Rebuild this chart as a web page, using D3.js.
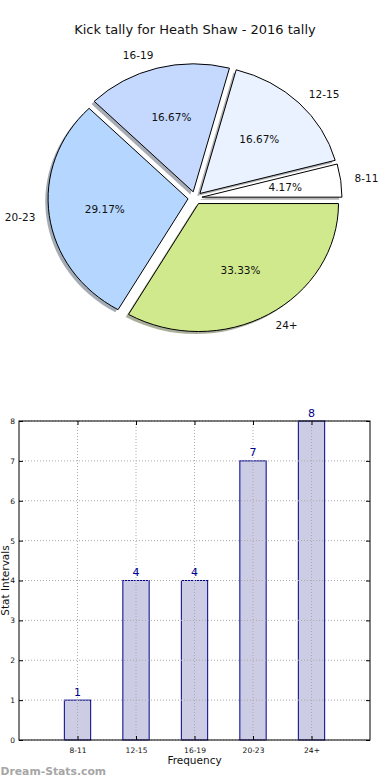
<!DOCTYPE html>
<html>
<head>
<meta charset="utf-8">
<script src="https://cdn.jsdelivr.net/npm/d3@7"></script>
<style>
  body { margin: 0; background: #fff; }
  svg { display: block; font-family: 'DejaVu Sans', sans-serif; }
</style>
</head>
<body>
<div id="chart"></div>
<script>
const title = 'Kick tally for Heath Shaw - 2016 tally'
const categories = ['8-11', '12-15', '16-19', '20-23', '24+']
const counts = [1, 4, 4, 7, 8]
const sliceColors = ['#ffffff', '#eaf1ff', '#c5d9ff', '#b4d6ff', '#d0e98c']
const yTicks = [0, 1, 2, 3, 4, 5, 6, 7, 8]

const width = 390
const height = 780

const svg = d3.select('#chart').append('svg')
  .attr('width', width)
  .attr('height', height)

svg.append('text')
  .attr('x', 195)
  .attr('y', 34)
  .attr('text-anchor', 'middle')
  .attr('font-size', 13)
  .attr('fill', '#111')
  .text(title)

// ---- pie (matplotlib style: ccw from 3 o'clock, exploded, shadowed, slightly elliptical)
const cx = 195, cy = 198, rx = 140, ry = 128
const explode = 0.05
const total = d3.sum(counts)

const pie = d3.pie().sort(null)
  .startAngle(Math.PI / 2)
  .endAngle(Math.PI / 2 - 2 * Math.PI)
const arcs = pie(counts)
const arc = d3.arc().innerRadius(0).outerRadius(1)

const unit = (a) => [Math.sin(a), -Math.cos(a)]

const pieG = svg.append('g')

arcs.forEach((d, i) => {
  const mid = (d.startAngle + d.endAngle) / 2
  const [ux, uy] = unit(mid)
  const ox = cx + explode * rx * ux
  const oy = cy + explode * ry * uy

  // shadow
  pieG.append('path')
    .attr('d', arc(d))
    .attr('transform', `translate(${ox - 0.02 * rx},${oy + 0.02 * ry}) scale(${rx},${ry})`)
    .attr('fill', d3.color(sliceColors[i]).darker(2.5))
    .attr('opacity', 0.5)
    .attr('stroke', 'none')
  d.ox = ox
  d.oy = oy
  d.mid = mid
})

arcs.forEach((d, i) => {
  pieG.append('path')
    .attr('d', arc(d))
    .attr('transform', `translate(${d.ox},${d.oy}) scale(${rx},${ry})`)
    .attr('fill', sliceColors[i])
    .attr('stroke', '#000')
    .attr('stroke-width', 1)
    .attr('vector-effect', 'non-scaling-stroke')
    .attr('stroke-linejoin', 'round')
})

arcs.forEach((d, i) => {
  const [ux, uy] = unit(d.mid)
  pieG.append('text')
    .attr('x', d.ox + 1.1 * rx * ux)
    .attr('y', d.oy + 1.1 * ry * uy)
    .attr('dy', '0.35em')
    .attr('text-anchor', ux >= 0 ? 'start' : 'end')
    .attr('font-size', 10.5)
    .attr('fill', '#111')
    .text(categories[i])
  pieG.append('text')
    .attr('x', d.ox + 0.6 * rx * ux)
    .attr('y', d.oy + 0.6 * ry * uy)
    .attr('dy', '0.35em')
    .attr('text-anchor', 'middle')
    .attr('font-size', 10.5)
    .attr('fill', '#111')
    .text(d3.format('.2f')(counts[i] / total * 100) + '%')
})

// ---- bar chart
const bLeft = 19, bRight = 370, bTop = 421, bBottom = 740
const x = d3.scaleLinear().domain([-1, categories.length]).range([bLeft, bRight])
const y = d3.scaleLinear().domain([0, 8]).range([bBottom, bTop])
const barW = 0.45

const barG = svg.append('g')

barG.selectAll('rect.bar').data(counts).join('rect')
  .attr('class', 'bar')
  .attr('x', (d, i) => x(i - barW / 2))
  .attr('width', x(barW) - x(0))
  .attr('y', (d) => y(d))
  .attr('height', (d) => y(0) - y(d))
  .attr('fill', '#cccce5')
  .attr('stroke', '#00008b')
  .attr('stroke-width', 1)

// grid above bars
barG.selectAll('line.vgrid').data(categories).join('line')
  .attr('class', 'vgrid')
  .attr('x1', (d, i) => x(i)).attr('x2', (d, i) => x(i))
  .attr('y1', bTop).attr('y2', bBottom)
  .attr('stroke', '#aaa').attr('stroke-dasharray', '1,2')
barG.selectAll('line.hgrid').data(yTicks).join('line')
  .attr('class', 'hgrid')
  .attr('x1', bLeft).attr('x2', bRight)
  .attr('y1', (d) => y(d)).attr('y2', (d) => y(d))
  .attr('stroke', '#aaa').attr('stroke-dasharray', '1,2')

barG.selectAll('text.val').data(counts).join('text')
  .attr('class', 'val')
  .attr('x', (d, i) => x(i))
  .attr('y', (d) => y(d) - 4.5)
  .attr('text-anchor', 'middle')
  .attr('font-size', 11)
  .attr('fill', '#00008b')
  .text((d) => d)

// axes frame
barG.append('rect')
  .attr('x', bLeft).attr('y', bTop)
  .attr('width', bRight - bLeft).attr('height', bBottom - bTop)
  .attr('fill', 'none').attr('stroke', '#000').attr('stroke-width', 1)

const yAxisL = d3.axisLeft(y).tickValues(yTicks).tickSize(-4).tickPadding(4)
const yAxisR = d3.axisRight(y).tickValues(yTicks).tickSize(-4).tickFormat('')
const xAxisB = d3.axisBottom(x).tickValues(d3.range(categories.length))
  .tickFormat((i) => categories[i]).tickSize(-4).tickPadding(8)
const xAxisT = d3.axisTop(x).tickValues(d3.range(categories.length))
  .tickSize(-4).tickFormat('')

const styleAxis = (g) => {
  g.select('.domain').remove()
  g.selectAll('.tick line').attr('stroke', '#000')
  g.selectAll('.tick text').attr('font-size', 7.5).attr('fill', '#111')
    .attr('font-family', "'DejaVu Sans', sans-serif")
}

barG.append('g').attr('transform', `translate(${bLeft},0)`).call(yAxisL).call(styleAxis)
barG.append('g').attr('transform', `translate(${bRight},0)`).call(yAxisR).call(styleAxis)
barG.append('g').attr('transform', `translate(0,${bBottom})`).call(xAxisB).call(styleAxis)
barG.append('g').attr('transform', `translate(0,${bTop})`).call(xAxisT).call(styleAxis)

svg.append('text')
  .attr('x', (bLeft + bRight) / 2)
  .attr('y', 764)
  .attr('text-anchor', 'middle')
  .attr('font-size', 10.5)
  .attr('fill', '#111')
  .text('Frequency')

svg.append('text')
  .attr('transform', `translate(8.5,${(bTop + bBottom) / 2}) rotate(-90)`)
  .attr('text-anchor', 'middle')
  .attr('font-size', 10.5)
  .attr('fill', '#111')
  .text('Stat Intervals')

svg.append('text')
  .attr('x', 0.5)
  .attr('y', 775)
  .attr('font-size', 10.8)
  .attr('font-weight', 'bold')
  .attr('fill', '#a6a6a6')
  .text('Dream-Stats.com')
</script>
</body>
</html>
